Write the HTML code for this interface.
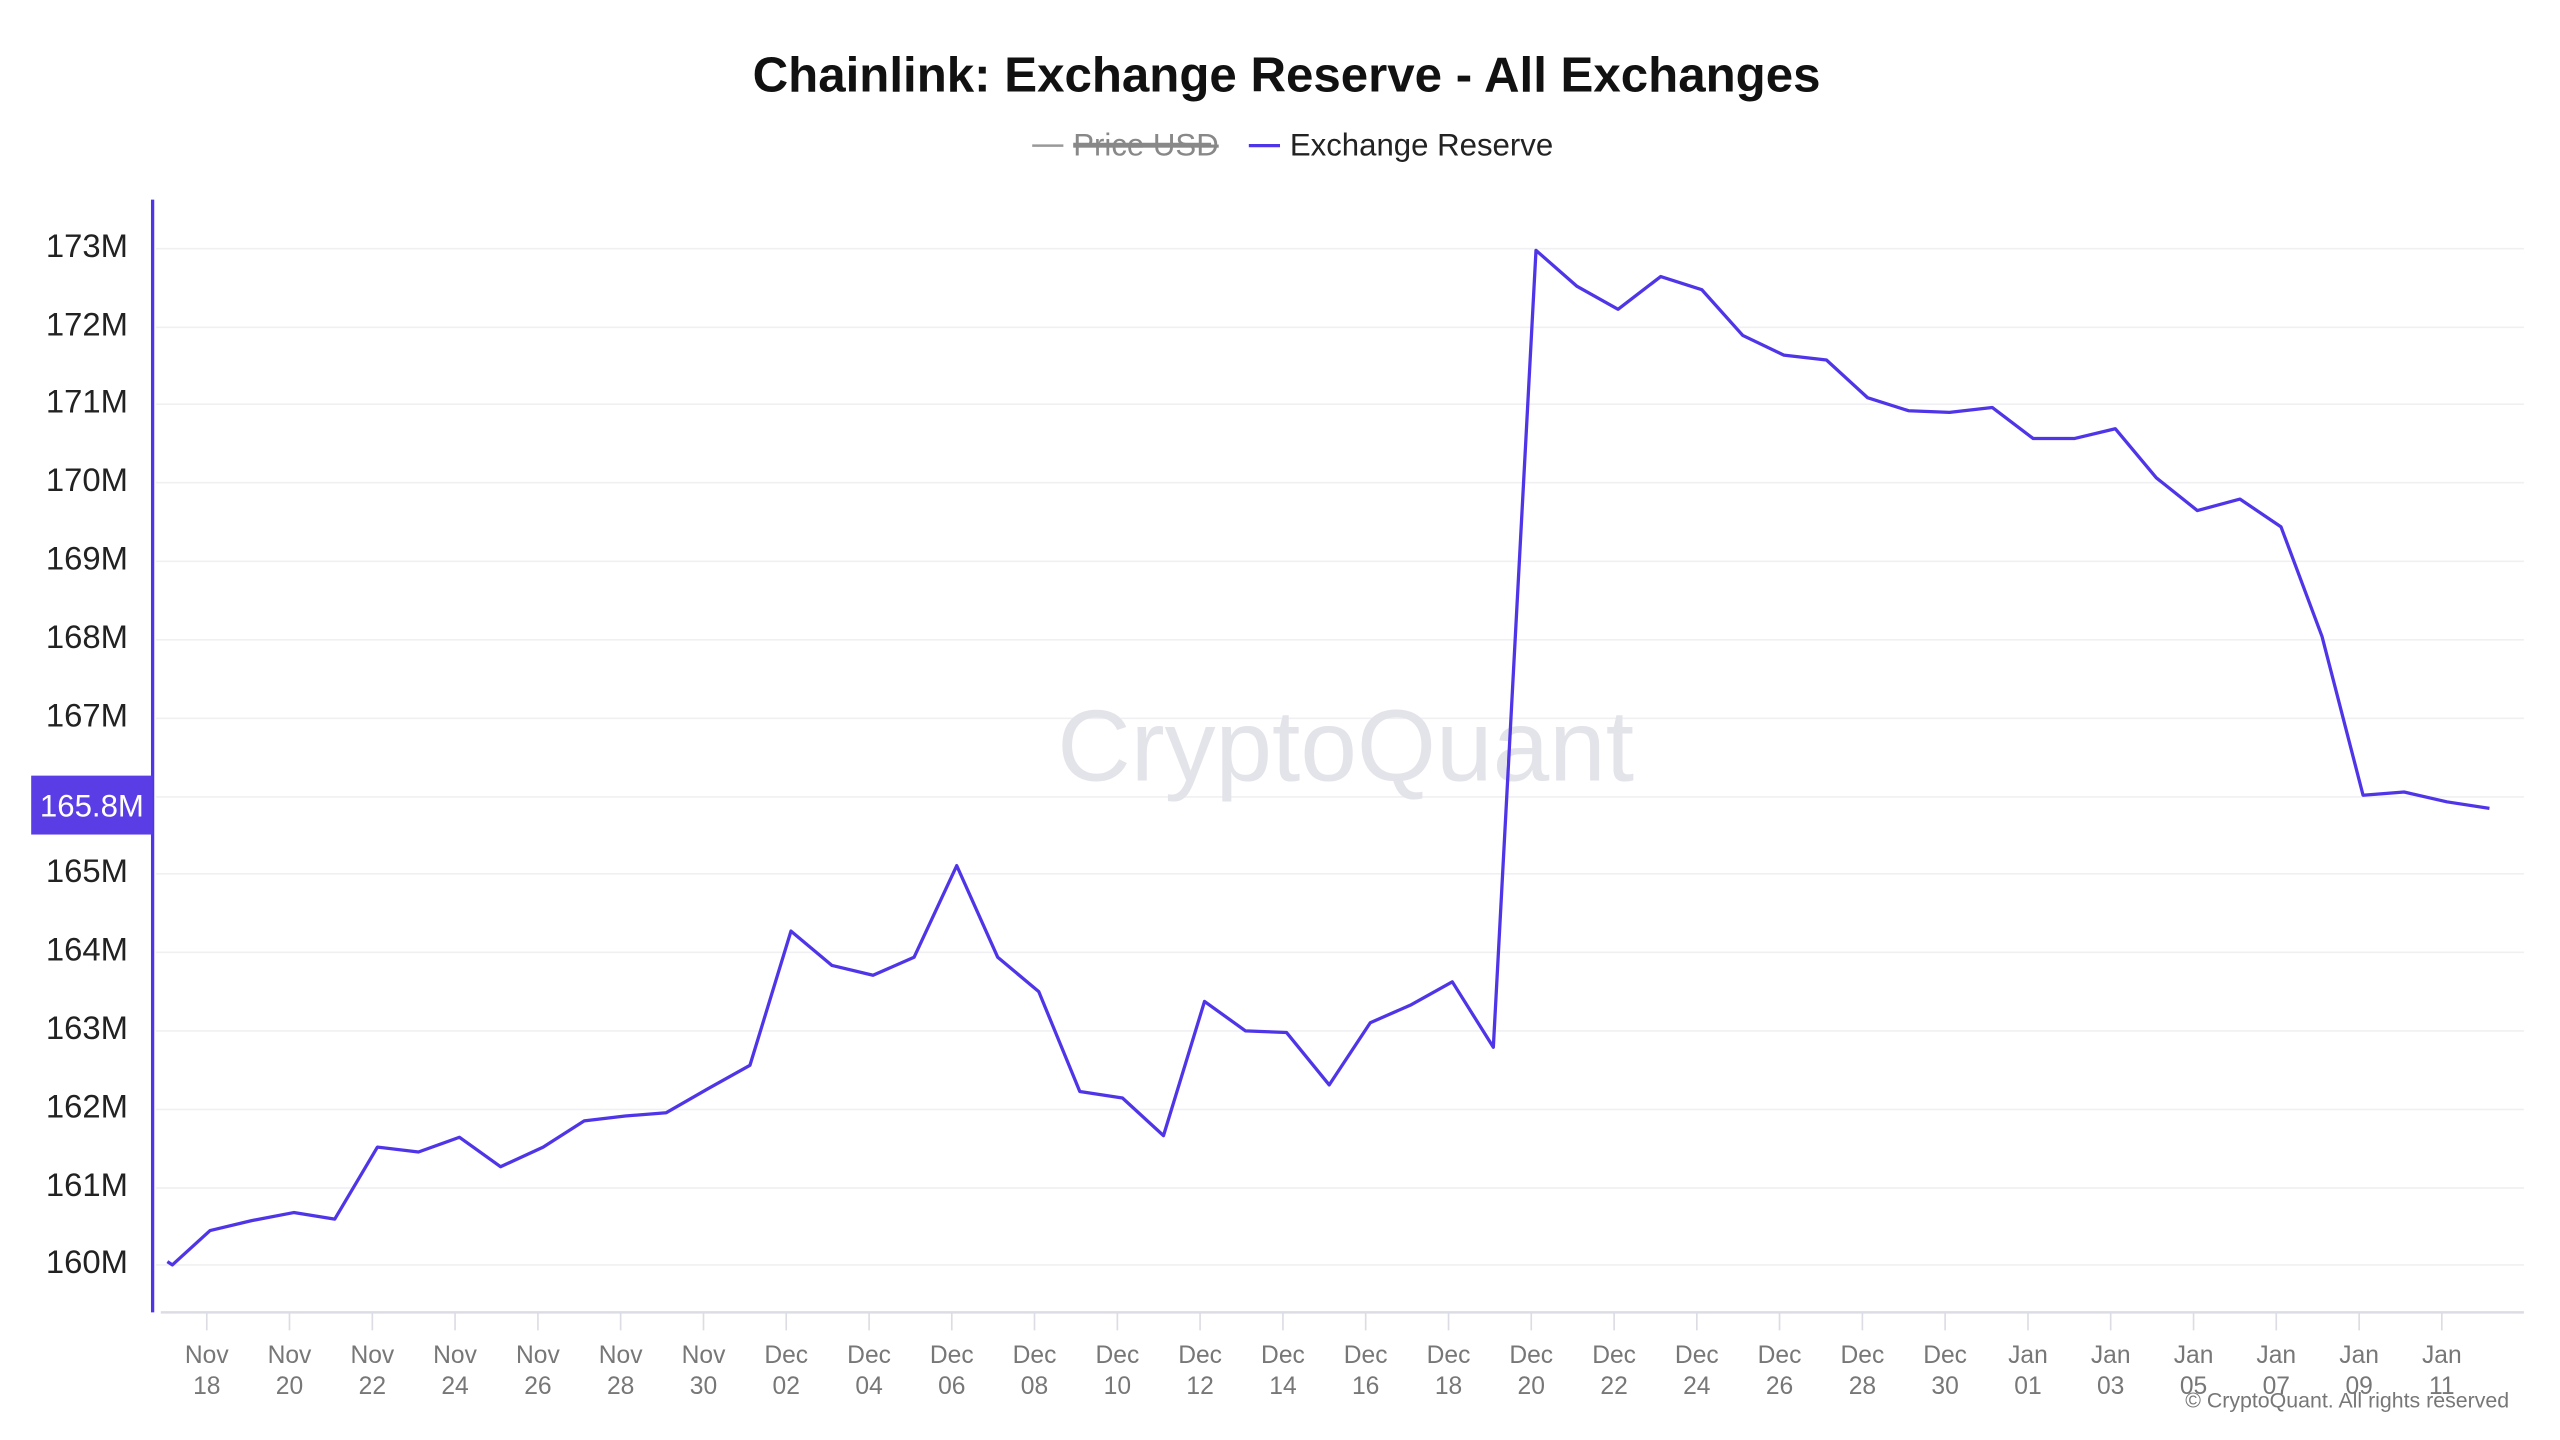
<!DOCTYPE html>
<html><head><meta charset="utf-8"><style>
html,body{margin:0;padding:0;background:#fff;}
svg{display:block}
text{font-family:"Liberation Sans",sans-serif}
</style></head><body>
<svg width="2560" height="1440" viewBox="0 0 1560 880" preserveAspectRatio="none" xmlns="http://www.w3.org/2000/svg">
<rect width="1560" height="880" fill="#fff"/>
<text x="784" y="56" text-anchor="middle" font-size="30" font-weight="bold" fill="#111">Chainlink: Exchange Reserve - All Exchanges</text>
<line x1="629" y1="89" x2="648" y2="89" stroke="#999" stroke-width="1.5"/>
<text x="654" y="95" font-size="19" fill="#888" text-decoration="line-through">Price USD</text>
<line x1="654" y1="88" x2="738" y2="88" stroke="#888" stroke-width="1.5"/>
<line x1="761" y1="89" x2="780" y2="89" stroke="#4f35e8" stroke-width="2"/>
<text x="786" y="95" font-size="19" fill="#222">Exchange Reserve</text>
<g stroke="#f0f0f3" stroke-width="1">
<line x1="95" x2="1538" y1="152" y2="152"/><line x1="95" x2="1538" y1="200" y2="200"/><line x1="95" x2="1538" y1="247" y2="247"/><line x1="95" x2="1538" y1="295" y2="295"/><line x1="95" x2="1538" y1="343" y2="343"/><line x1="95" x2="1538" y1="391" y2="391"/><line x1="95" x2="1538" y1="439" y2="439"/><line x1="95" x2="1538" y1="487" y2="487"/><line x1="95" x2="1538" y1="534" y2="534"/><line x1="95" x2="1538" y1="582" y2="582"/><line x1="95" x2="1538" y1="630" y2="630"/><line x1="95" x2="1538" y1="678" y2="678"/><line x1="95" x2="1538" y1="726" y2="726"/><line x1="95" x2="1538" y1="773" y2="773"/>
</g>
<text x="820" y="477" text-anchor="middle" font-size="62" fill="#e3e3ea">CryptoQuant</text>
<g font-size="20" fill="#222" text-anchor="end">
<text x="78" y="157">173M</text><text x="78" y="205">172M</text><text x="78" y="252">171M</text><text x="78" y="300">170M</text><text x="78" y="348">169M</text><text x="78" y="396">168M</text><text x="78" y="444">167M</text><text x="78" y="539">165M</text><text x="78" y="587">164M</text><text x="78" y="635">163M</text><text x="78" y="683">162M</text><text x="78" y="731">161M</text><text x="78" y="778">160M</text>
</g>
<line x1="93" y1="122" x2="93" y2="802" stroke="#4f35e8" stroke-width="2"/>
<rect x="19" y="474" width="74" height="36" fill="#5b3de6"/>
<text x="56" y="499" text-anchor="middle" font-size="19" fill="#fff">165.8M</text>
<line x1="98" y1="802" x2="1538" y2="802" stroke="#dcdce4" stroke-width="1.5"/>
<g stroke="#dcdce4" stroke-width="1">
<line x1="126" x2="126" y1="802" y2="813"/><line x1="176.4" x2="176.4" y1="802" y2="813"/><line x1="226.9" x2="226.9" y1="802" y2="813"/><line x1="277.3" x2="277.3" y1="802" y2="813"/><line x1="327.8" x2="327.8" y1="802" y2="813"/><line x1="378.2" x2="378.2" y1="802" y2="813"/><line x1="428.7" x2="428.7" y1="802" y2="813"/><line x1="479.1" x2="479.1" y1="802" y2="813"/><line x1="529.6" x2="529.6" y1="802" y2="813"/><line x1="580" x2="580" y1="802" y2="813"/><line x1="630.4" x2="630.4" y1="802" y2="813"/><line x1="680.9" x2="680.9" y1="802" y2="813"/><line x1="731.3" x2="731.3" y1="802" y2="813"/><line x1="781.8" x2="781.8" y1="802" y2="813"/><line x1="832.2" x2="832.2" y1="802" y2="813"/><line x1="882.7" x2="882.7" y1="802" y2="813"/><line x1="933.1" x2="933.1" y1="802" y2="813"/><line x1="983.6" x2="983.6" y1="802" y2="813"/><line x1="1034" x2="1034" y1="802" y2="813"/><line x1="1084.4" x2="1084.4" y1="802" y2="813"/><line x1="1134.9" x2="1134.9" y1="802" y2="813"/><line x1="1185.3" x2="1185.3" y1="802" y2="813"/><line x1="1235.8" x2="1235.8" y1="802" y2="813"/><line x1="1286.2" x2="1286.2" y1="802" y2="813"/><line x1="1336.7" x2="1336.7" y1="802" y2="813"/><line x1="1387.1" x2="1387.1" y1="802" y2="813"/><line x1="1437.6" x2="1437.6" y1="802" y2="813"/><line x1="1488" x2="1488" y1="802" y2="813"/>
</g>
<g font-size="15" fill="#777" text-anchor="middle">
<text x="126" y="833">Nov</text><text x="126" y="852">18</text>
<text x="176.4" y="833">Nov</text><text x="176.4" y="852">20</text>
<text x="226.9" y="833">Nov</text><text x="226.9" y="852">22</text>
<text x="277.3" y="833">Nov</text><text x="277.3" y="852">24</text>
<text x="327.8" y="833">Nov</text><text x="327.8" y="852">26</text>
<text x="378.2" y="833">Nov</text><text x="378.2" y="852">28</text>
<text x="428.7" y="833">Nov</text><text x="428.7" y="852">30</text>
<text x="479.1" y="833">Dec</text><text x="479.1" y="852">02</text>
<text x="529.6" y="833">Dec</text><text x="529.6" y="852">04</text>
<text x="580" y="833">Dec</text><text x="580" y="852">06</text>
<text x="630.4" y="833">Dec</text><text x="630.4" y="852">08</text>
<text x="680.9" y="833">Dec</text><text x="680.9" y="852">10</text>
<text x="731.3" y="833">Dec</text><text x="731.3" y="852">12</text>
<text x="781.8" y="833">Dec</text><text x="781.8" y="852">14</text>
<text x="832.2" y="833">Dec</text><text x="832.2" y="852">16</text>
<text x="882.7" y="833">Dec</text><text x="882.7" y="852">18</text>
<text x="933.1" y="833">Dec</text><text x="933.1" y="852">20</text>
<text x="983.6" y="833">Dec</text><text x="983.6" y="852">22</text>
<text x="1034" y="833">Dec</text><text x="1034" y="852">24</text>
<text x="1084.4" y="833">Dec</text><text x="1084.4" y="852">26</text>
<text x="1134.9" y="833">Dec</text><text x="1134.9" y="852">28</text>
<text x="1185.3" y="833">Dec</text><text x="1185.3" y="852">30</text>
<text x="1235.8" y="833">Jan</text><text x="1235.8" y="852">01</text>
<text x="1286.2" y="833">Jan</text><text x="1286.2" y="852">03</text>
<text x="1336.7" y="833">Jan</text><text x="1336.7" y="852">05</text>
<text x="1387.1" y="833">Jan</text><text x="1387.1" y="852">07</text>
<text x="1437.6" y="833">Jan</text><text x="1437.6" y="852">09</text>
<text x="1488" y="833">Jan</text><text x="1488" y="852">11</text>
</g>
<text x="1529" y="860" text-anchor="end" font-size="13" fill="#777">© CryptoQuant. All rights reserved</text>
<polyline fill="none" stroke="#4f35e8" stroke-width="2" stroke-linejoin="round" points="102,771 105,773 128,752 153,746 179,741 204,745 230,701 255,704 280,695 305,713 331,701 356,685 381,682 406,680 432,665 457,651 482,569 507,590 532,596 557,585 583,529 608,585 633,606 658,667 684,671 709,694 734,612 759,630 784,631 810,663 835,625 860,614 885,600 910,640 936,153 961,175 986,189 1012,169 1037,177 1062,205 1087,217 1113,220 1138,243 1163,251 1188,252 1214,249 1239,268 1264,268 1289,262 1314,292 1339,312 1365,305 1390,322 1415,389 1440,486 1465,484 1491,490 1517,494"/>
</svg>
</body></html>
